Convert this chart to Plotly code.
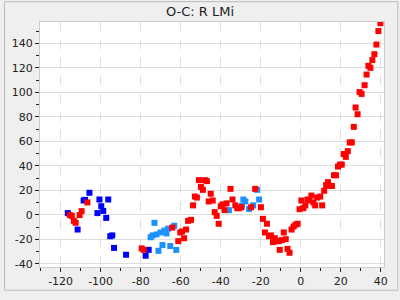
import plotly.graph_objects as go

# Dark blue series
blue_x = [-116.4, -105.6, -107.8, -108.5, -100.6, -96.2, -99.7, -98.7, -101.6, -97.2,
          -111.5, -95.2, -94.2, -93.3, -87.3, -76.0, -77.5]
blue_y = [1.4, 18.0, 12.2, 11.7, 12.5, 12.5, 7.0, 3.2, 1.4, -2.5,
          -12.0, -17.5, -16.8, -27.0, -32.6, -28.6, -33.4]

# Light blue series
lblue_x = [-73.1, -75.0, -74.0, -72.1, -70.1, -68.1, -67.1, -66.2, -63.2, -69.1,
           -71.1, -65.2, -62.2, -28.7, -27.7, -25.8, -23.8, -21.8, -20.8, -35.9, -29.4]
lblue_y = [-6.5, -18.3, -16.8, -16.0, -14.4, -12.8, -15.2, -11.2, -8.9, -24.7,
           -29.4, -25.5, -28.6, 12.5, 10.9, 4.8, 7.7, 20.4, 12.5, 3.8, 7.4]

# Red series
red_x = [-115.4, -114.4, -113.4, -112.5, -110.5, -109.5, -106.6, -79.5, -78.5,
         -64.2, -61.2, -60.2, -59.3, -58.3, -57.3, -56.3, -54.8, -53.8, -52.9, -51.9,
         -50.9, -49.9, -48.9, -47.9, -46.9, -45.0, -46.0, -44.0, -43.0, -42.0, -41.0,
         -40.0, -39.1, -38.1, -37.1, -35.1, -34.1, -32.7, -31.7, -30.7, -29.7, -24.8,
         -22.8, -19.9, -18.9, -17.9, -16.9, -15.9, -14.9, -13.9, -13.0, -12.0, -11.0,
         -10.5, -9.5, -8.5, -7.5, -6.6, -5.6, -4.6, -3.6, -2.6, -1.6, -0.6, 0.3, 1.3,
         2.3, 3.3, 4.3, 5.3, 6.3, 7.2, 8.2, 9.7, 10.7, 11.7, 12.7, 13.6, 14.6, 15.6,
         16.6, 17.6, 18.6, 19.6, 20.5, 21.5, 22.5, 23.5, 24.5, 25.5, 26.5, 27.4, 28.4,
         29.4, 30.4, 31.9, 32.9, 33.8, 34.8, 35.8, 36.8, 37.8, 38.8, 39.8]
red_y = [-0.2, -0.9, -4.9, -6.5, -0.2, 3.0, 10.1, -27.4, -28.6,
         -10.4, -21.5, -14.4, -13.6, -19.1, -12.0, -4.9, -4.1, 7.7, 14.9, 14.1,
         28.3, 22.8, 20.4, 28.3, 27.5, 17.2, 10.9, 11.7, 2.2, -0.9, -7.3,
         7.0, 8.5, 3.8, 9.3, 21.2, 12.5, 7.7, 5.4, 5.4, 6.2, 6.2,
         21.2, 6.2, -3.3, -14.4, -7.3, -17.5, -16.8, -22.3, -19.1, -21.5, -21.5,
         -28.6, -20.7, -14.4, -19.9, -27.8, -31.0, -12.0, -9.6, -8.1, -7.3, 4.6, 11.7, 5.4,
         7.7, 12.5, 11.7, 15.7, 10.1, 7.7, 14.1, 14.9, 7.7, 19.6, 24.3, 26.7, 23.6, 23.6,
         32.3, 32.3, 39.4, 41.0, 41.0, 49.6, 47.3, 52.0, 59.1, 59.1, 71.8, 87.6, 82.1,
         100.2, 98.7, 105.8, 114.5, 121.6, 120.0, 126.3, 131.1, 139.0, 150.0, 156.4]

title_text = "O-C: R LMi"
x_ticks = [-120, -100, -80, -60, -40, -20, 0, 20, 40]
y_ticks = [-40, -20, 0, 20, 40, 60, 80, 100, 120, 140]

fig = go.Figure()
marker_common = dict(symbol="square", size=6, line=dict(width=0))
fig.add_trace(go.Scatter(x=blue_x, y=blue_y, mode="markers",
                         marker=dict(color="#0000ff", **marker_common)))
fig.add_trace(go.Scatter(x=lblue_x, y=lblue_y, mode="markers",
                         marker=dict(color="#1e90ff", **marker_common)))
fig.add_trace(go.Scatter(x=red_x, y=red_y, mode="markers",
                         marker=dict(color="#ff0000", **marker_common)))

font_family = "DejaVu Sans"
fig.update_layout(
    width=400, height=300,
    margin=dict(l=36, r=15, t=22, b=25),
    paper_bgcolor="#efefef",
    plot_bgcolor="#ffffff",
    showlegend=False,
    font=dict(family=font_family, size=11, color="#222222"),
    title=dict(text=title_text, x=0.5, xanchor="center", y=1 - 11 / 300, yanchor="middle",
               font=dict(family=font_family, size=13, color="#222222")),
    xaxis=dict(
        range=[-130.3, 41.6], tickvals=x_ticks, ticktext=[str(v) for v in x_ticks],
        showgrid=True, gridcolor="#dddddd", griddash="dash", gridwidth=1,
        zeroline=False, showline=True, linecolor="#cccccc", mirror=True,
        ticks="outside", ticklen=4, tickcolor="#222222",
        minor=dict(dtick=10, tick0=0, ticks="outside", ticklen=3, tickcolor="#222222", showgrid=False),
    ),
    yaxis=dict(
        range=[-42.6, 157.4], tickvals=y_ticks, ticktext=[str(v) for v in y_ticks],
        showgrid=True, gridcolor="#dddddd", gridwidth=1,
        zeroline=False, showline=True, linecolor="#cccccc", mirror=True,
        ticks="outside", ticklen=4, tickcolor="#222222",
        minor=dict(dtick=10, tick0=0, ticks="outside", ticklen=3, tickcolor="#222222", showgrid=False),
    ),
)
# outer frame
fig.add_shape(type="rect", xref="paper", yref="paper",
              x0=-36 / 349, x1=1 + 14 / 349, y0=-24 / 253, y1=1 + 21 / 253,
              line=dict(color="#bbbbbb", width=1), fillcolor="rgba(0,0,0,0)", layer="below")

fig.write_html("out.html")
